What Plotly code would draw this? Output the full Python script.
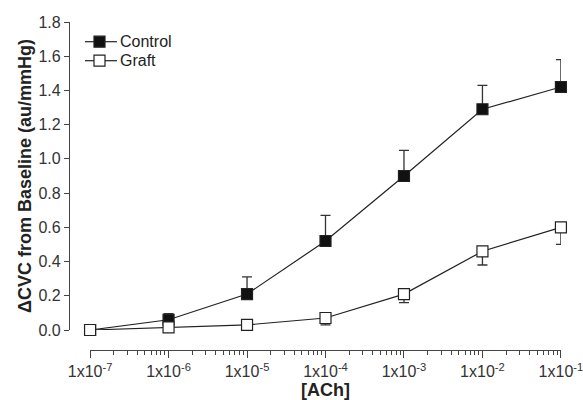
import plotly.graph_objects as go

conc = [1e-7, 1e-6, 1e-5, 1e-4, 1e-3, 1e-2, 1e-1]
control = [0.0, 0.06, 0.21, 0.52, 0.90, 1.29, 1.42]
control_err = [0.0, 0.035, 0.10, 0.15, 0.15, 0.14, 0.16]
graft = [0.0, 0.015, 0.03, 0.07, 0.21, 0.46, 0.60]
graft_err = [0.0, 0.0, 0.0, 0.04, 0.05, 0.08, 0.10]
xtick_text = ["1x10<sup>-7</sup>", "1x10<sup>-6</sup>", "1x10<sup>-5</sup>", "1x10<sup>-4</sup>",
              "1x10<sup>-3</sup>", "1x10<sup>-2</sup>", "1x10<sup>-1</sup>"]
ytick_vals = [0.0, 0.2, 0.4, 0.6, 0.8, 1.0, 1.2, 1.4, 1.6, 1.8]
legend_names = ["Control", "Graft"]
legend_fill = ["#111", "white"]

minor_vals = [m * d for d in conc[:-1] for m in range(2, 10)]

FONT = "Liberation Sans, Arial, sans-serif"
LINE = "#222"

fig = go.Figure()
fig.add_trace(go.Scatter(
    x=conc, y=control, name="Control", mode="lines+markers",
    line=dict(color=LINE, width=1.2),
    marker=dict(symbol="square", size=11, color="#111", line=dict(color=LINE, width=1.2)),
    error_y=dict(type="data", array=control_err, arrayminus=[0]*7, symmetric=False,
                 color="#333", thickness=1.3, width=5),
    cliponaxis=False,
))
fig.add_trace(go.Scatter(
    x=conc, y=graft, name="Graft", mode="lines+markers",
    line=dict(color=LINE, width=1.2),
    marker=dict(symbol="square", size=11, color="white", line=dict(color=LINE, width=1.2)),
    error_y=dict(type="data", array=[0]*7, arrayminus=graft_err, symmetric=False,
                 color="#333", thickness=1.3, width=5),
    cliponaxis=False,
))

L, R, T, B = 69, 22, 22, 50
pw = 583 - L - R
ph = 400 - T - B


def px(x):
    return (x - L) / pw


def py(y):
    return 1 - (y - T) / ph


# manual legend (line + square + text), placed in pixel terms
shapes = []
annotations = []
for i, (nm, fc) in enumerate(zip(legend_names, legend_fill)):
    yc = 41.7 + i * 19
    shapes.append(dict(type="line", xref="paper", yref="paper",
                       x0=px(85), x1=px(117), y0=py(yc), y1=py(yc),
                       line=dict(color=LINE, width=1.2)))
    shapes.append(dict(type="rect", xref="paper", yref="paper",
                       x0=px(94), x1=px(105), y0=py(yc - 5.5), y1=py(yc + 5.5),
                       fillcolor=fc, line=dict(color=LINE, width=1.2)))
    annotations.append(dict(text=nm, xref="paper", yref="paper", x=px(118), y=py(yc),
                            xanchor="left", yanchor="middle", showarrow=False,
                            font=dict(family=FONT, size=16, color="#222")))

fig.update_layout(
    width=583, height=400,
    margin=dict(l=L, r=R, t=T, b=B, autoexpand=False),
    paper_bgcolor="white", plot_bgcolor="white",
    font=dict(family=FONT, color="#333", size=16),
    showlegend=False,
    shapes=shapes,
    annotations=annotations,
    xaxis=dict(
        type="log", range=[-7.001, -0.999], domain=[21/pw, 1],
        anchor="free", position=0, automargin=False,
        showgrid=False, zeroline=False,
        showline=True, linecolor="#444", linewidth=1.2,
        ticks="outside", ticklen=7, tickwidth=1.2, tickcolor="#444",
        tickmode="array", tickvals=conc, ticktext=xtick_text,
        ticklabeloverflow="allow",
        tickfont=dict(family=FONT, size=16, color="#333"),
        minor=dict(tickmode="array", tickvals=minor_vals, ticks="outside", ticklen=4,
                   tickwidth=1, tickcolor="#444"),
        title=dict(text="<b>[ACh]</b>", font=dict(family=FONT, size=18, color="#222"), standoff=2),
    ),
    yaxis=dict(
        range=[0, 1.8], domain=[20/ph, 1],
        anchor="free", position=0, automargin=False,
        showgrid=False, zeroline=False,
        showline=True, linecolor="#444", linewidth=1.2,
        ticks="outside", ticklen=5, tickwidth=1.2, tickcolor="#444",
        tickmode="array", tickvals=ytick_vals, tickformat=".1f",
        tickfont=dict(family=FONT, size=16, color="#333"),
        title=dict(text="<b>ΔCVC from Baseline (au/mmHg)</b>", font=dict(family=FONT, size=18, color="#222"), standoff=1),
    ),
)

fig.write_html("out.html")
